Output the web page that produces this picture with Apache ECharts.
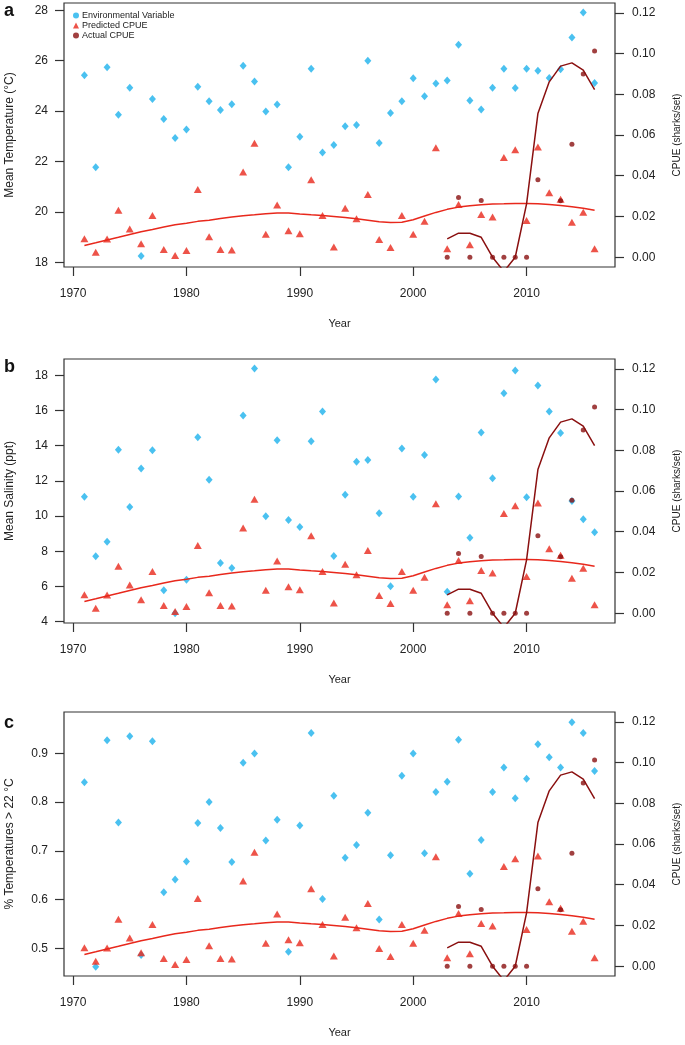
<!DOCTYPE html>
<html>
<head>
<meta charset="utf-8">
<script src="https://cdn.jsdelivr.net/npm/echarts@6/dist/echarts.min.js"></script>
<style>
html,body{margin:0;padding:0;background:#fff;}
#chart{width:685px;height:1045px;}
</style>
</head>
<body>
<div id="chart"></div>
<script>
// ---------------- data ----------------
const years = [1971,1972,1973,1974,1975,1976,1977,1978,1979,1980,
               1981,1982,1983,1984,1985,1986,1987,1988,1989,1990,
               1991,1992,1993,1994,1995,1996,1997,1998,1999,2000,
               2001,2002,2003,2004,2005,2006,2007,2008,2009,2010,
               2011,2012,2013,2014,2015,2016];

const tempEnv = [25.42,21.77,25.74,23.85,24.93,18.25,24.48,23.69,22.93,23.27,
                 24.97,24.39,24.04,24.27,25.80,25.17,23.98,24.26,21.77,22.98,
                 25.68,22.36,22.65,23.40,23.45,26.00,22.73,23.92,24.39,25.30,
                 24.59,25.09,25.21,26.63,24.42,24.06,24.93,25.68,24.92,25.68,
                 25.60,25.31,25.66,26.92,27.91,25.11];

const salinityEnv = [11.09,7.71,8.54,13.76,10.51,12.70,13.74,5.78,4.47,6.38,
                     14.48,12.06,7.33,7.05,15.71,18.38,9.98,14.30,9.77,9.37,
                     14.25,15.94,7.73,11.21,13.08,13.18,10.15,6.01,13.84,11.09,
                     13.46,17.76,5.70,11.11,8.77,14.75,12.14,16.98,18.26,11.06,
                     17.41,15.94,14.71,10.85,9.81,9.07];

const pctTempEnv = [0.841,0.462,0.927,0.758,0.935,0.486,0.925,0.615,0.641,0.678,
                    0.757,0.800,0.747,0.677,0.881,0.900,0.721,0.764,0.493,0.752,
                    0.942,0.601,0.813,0.686,0.712,0.778,0.559,0.691,0.854,0.900,
                    0.695,0.821,0.842,0.928,0.653,0.722,0.821,0.871,0.808,0.848,
                    0.919,0.892,0.871,0.964,0.942,0.864];

const predictedCPUE = [0.0091,0.0025,0.0090,0.0230,0.0138,0.0066,0.0205,0.0038,0.0008,0.0033,
                       0.0333,0.0100,0.0038,0.0036,0.0418,0.0560,0.0113,0.0256,0.0130,0.0115,
                       0.0380,0.0205,0.0050,0.0241,0.0189,0.0308,0.0087,0.0048,0.0205,0.0113,
                       0.0176,0.0538,0.0041,0.0259,0.0061,0.0210,0.0197,0.0489,0.0528,0.0180,
                       0.0541,0.0317,0.0285,0.0172,0.0221,0.0041];

const predictedSmooth = [0.0058,0.0071,0.0085,0.0098,0.0112,0.0125,0.0136,0.0148,0.0159,0.0167,
                         0.0176,0.0182,0.0190,0.0197,0.0204,0.0208,0.0213,0.0217,0.0217,0.0212,
                         0.0208,0.0205,0.0200,0.0195,0.0189,0.0182,0.0174,0.0171,0.0172,0.0184,
                         0.0202,0.0220,0.0235,0.0246,0.0253,0.0258,0.0261,0.0262,0.0264,0.0264,
                         0.0262,0.0259,0.0254,0.0248,0.0240,0.0231];

const actualYears = [2003,2004,2005,2006,2007,2008,2009,2010,2011,2013,2014,2015,2016];
const actualCPUE  = [0,0.0293,0,0.0278,0,0,0,0,0.0380,0.0277,0.0554,0.0899,0.1012];

const actualSmoothYears = [2003,2004,2005,2006,2007,2008,2009,2010,2011,2012,2013,2014,2015,2016];
const actualSmooth      = [0.0090,0.0118,0.0118,0.0098,0.0,-0.0070,0.0,0.0262,0.0705,0.0861,0.0938,0.0954,0.0918,0.0823];

const xTicks = [1970,1980,1990,2000,2010];
const cpueTicks = [0, 0.02, 0.04, 0.06, 0.08, 0.10, 0.12];

const panels = [
  {letter:'a', name:'Mean Temperature (\u00B0C)', env:tempEnv, min:17.81, max:28.29,
   ticks:[18,20,22,24,26,28], dec:0},
  {letter:'b', name:'Mean Salinity (ppt)', env:salinityEnv, min:3.92, max:18.92,
   ticks:[4,6,8,10,12,14,16,18], dec:0},
  {letter:'c', name:'% Temperatures > 22 \u00B0C', env:pctTempEnv, min:0.443, max:0.985,
   ticks:[0.5,0.6,0.7,0.8,0.9], dec:1}
];

// ---------------- layout / style ----------------
const gridTops = [3, 359, 712];
const gridH = 264;
const BLUE = '#1DB1EC', RED = '#E8281C', DARK = '#8A1010', INK = '#222';
const FONT = 'Liberation Sans, Arial, Helvetica, sans-serif';

const grid = [], xAxis = [], yAxis = [], series = [], graphic = [];
const tickStyle = {show:true, inside:false, length:9, lineStyle:{color:'#333', width:1.2}};

panels.forEach((p, i) => {
  grid.push({left:64, right:70, top:gridTops[i], height:gridH, show:true,
             containLabel:false, outerBoundsMode:'none',
             borderColor:'#333', borderWidth:1.2, backgroundColor:'transparent'});
  xAxis.push({type:'value', gridIndex:i, position:'bottom', min:1969.2, max:2017.8,
    splitLine:{show:false}, axisLine:{show:false, onZero:false},
    axisTick:Object.assign({customValues:xTicks}, tickStyle),
    axisLabel:{customValues:xTicks, margin:21, fontSize:12, color:INK, fontFamily:FONT,
               formatter:v => String(Math.round(v))},
    name:'Year', nameLocation:'middle', nameGap:51,
    nameTextStyle:{fontSize:11, color:INK, fontFamily:FONT}});
  yAxis.push({type:'value', gridIndex:i, position:'left', min:p.min, max:p.max,
    splitLine:{show:false}, axisLine:{show:false, onZero:false},
    axisTick:Object.assign({customValues:p.ticks}, tickStyle),
    axisLabel:{customValues:p.ticks, margin:16, fontSize:12, color:INK, fontFamily:FONT,
               formatter:v => v.toFixed(p.dec)},
    name:p.name, nameLocation:'middle', nameGap:48, nameRotate:90,
    nameTextStyle:{fontSize:12, color:INK, fontFamily:FONT}});
  yAxis.push({type:'value', gridIndex:i, position:'right', min:-0.0048, max:0.1248,
    splitLine:{show:false}, axisLine:{show:false, onZero:false},
    axisTick:Object.assign({customValues:cpueTicks}, tickStyle),
    axisLabel:{customValues:cpueTicks, margin:17, fontSize:12, color:INK, fontFamily:FONT,
               formatter:v => v.toFixed(2)},
    name:'CPUE (sharks/set)', nameLocation:'middle', nameGap:57, nameRotate:90,
    nameTextStyle:{fontSize:10, color:INK, fontFamily:FONT}});

  series.push({name:'Environmental Variable', type:'scatter', xAxisIndex:i, yAxisIndex:2*i,
    symbol:'diamond', symbolSize:[7,8], itemStyle:{color:BLUE},
    data: years.map((y,k) => [y, p.env[k]]), z:2});
  series.push({name:'Predicted CPUE', type:'scatter', xAxisIndex:i, yAxisIndex:2*i+1,
    symbol:'triangle', symbolSize:[8,7], itemStyle:{color:RED},
    data: years.map((y,k) => [y, predictedCPUE[k]]), z:3});
  series.push({name:'Predicted smooth', type:'line', xAxisIndex:i, yAxisIndex:2*i+1,
    showSymbol:false, symbol:'none', clip:true, lineStyle:{color:RED, width:1.5},
    data: years.map((y,k) => [y, predictedSmooth[k]]), z:4, silent:true});
  series.push({name:'Actual smooth', type:'line', xAxisIndex:i, yAxisIndex:2*i+1,
    showSymbol:false, symbol:'none', clip:true, lineStyle:{color:DARK, width:1.5},
    data: actualSmoothYears.map((y,k) => [y, actualSmooth[k]]), z:4, silent:true});
  series.push({name:'Actual CPUE', type:'scatter', xAxisIndex:i, yAxisIndex:2*i+1,
    symbol:'circle', symbolSize:5, itemStyle:{color:DARK},
    data: actualYears.map((y,k) => [y, actualCPUE[k]]), z:5});
});

const letterTops = [2, 358, 714];
panels.forEach((p, i) => {
  graphic.push({type:'text', left:4, top:letterTops[i],
    style:{text:p.letter, fontSize:18, fontWeight:'bold', fill:'#111', fontFamily:FONT}});
});

const option = {
  animation:false,
  backgroundColor:'#fff',
  textStyle:{fontFamily:FONT},
  grid, xAxis, yAxis, series, graphic,
  legend:{
    orient:'vertical', left:68, top:6, itemGap:1, itemWidth:6, itemHeight:6,
    textStyle:{fontSize:9, color:INK, fontFamily:FONT, padding:[0,0,0,-2]},
    data:[
      {name:'Environmental Variable', icon:'circle', itemStyle:{color:BLUE}},
      {name:'Predicted CPUE', icon:'triangle', itemStyle:{color:RED}},
      {name:'Actual CPUE', icon:'circle', itemStyle:{color:DARK}}
    ]
  }
};

const chart = echarts.init(document.getElementById('chart'), null, {renderer:'canvas'});
chart.setOption(option);
</script>
</body>
</html>
